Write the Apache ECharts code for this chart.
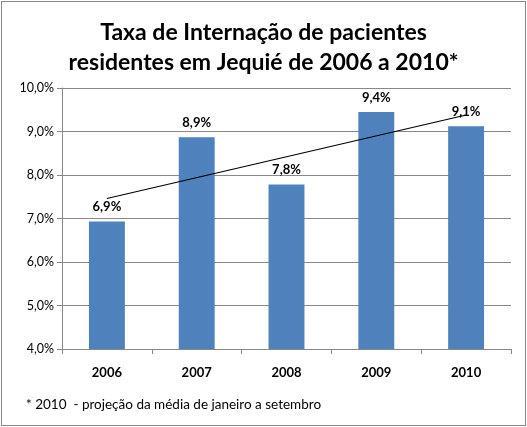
<!DOCTYPE html>
<html>
<head>
<meta charset="utf-8">
<script src="https://cdn.jsdelivr.net/npm/echarts@6/dist/echarts.min.js"></script>
<style>
  html, body { margin: 0; padding: 0; background: #fff; }
  #chart { position: absolute; left: 1px; top: 1px; width: 523px; height: 423px; border: 1px solid #888; }
</style>
</head>
<body>
<div id="chart"></div>
<script>
// dados
const anos = ['2006', '2007', '2008', '2009', '2010'];
const taxas = [6.93, 8.87, 7.78, 9.45, 9.12];
const rotulos = ['6,9%', '8,9%', '7,8%', '9,4%', '9,1%'];
// linha de tendência (extremos)
const tendencia = [7.46, null, null, null, 9.38];

const fonte = 'Lato, "Open Sans", sans-serif';

const chart = echarts.init(document.getElementById('chart'));
chart.setOption({
  animation: false,
  title: {
    text: 'Taxa de Internação de pacientes\nresidentes em Jequié de 2006 a 2010*',
    left: 'center',
    top: 11,
    textStyle: { fontFamily: fonte, fontSize: 23, fontWeight: 'bold', color: '#000', lineHeight: 30 }
  },
  graphic: [{
    type: 'text',
    left: 24,
    top: 396,
    style: { text: '* 2010  - projeção da média de janeiro a setembro', font: '13.5px ' + fonte, fill: '#000' }
  }],
  grid: { left: 60, right: 14, top: 86, bottom: 76 },
  xAxis: {
    type: 'category',
    data: anos,
    axisLine: { lineStyle: { color: '#888' } },
    axisTick: { show: true, length: 5, lineStyle: { color: '#888' } },
    axisLabel: { fontFamily: fonte, fontSize: 13, fontWeight: 'bold', color: '#000', margin: 17 }
  },
  yAxis: {
    type: 'value',
    min: 4, max: 10, interval: 1,
    axisLine: { show: true, lineStyle: { color: '#888' } },
    axisTick: { show: true, length: 5, lineStyle: { color: '#888' } },
    splitLine: { lineStyle: { color: '#888' } },
    axisLabel: {
      fontFamily: fonte, fontSize: 12.5, color: '#000', margin: 8,
      formatter: v => v.toFixed(1).replace('.', ',') + '%'
    }
  },
  series: [
    {
      type: 'bar',
      data: taxas,
      barWidth: '40%',
      itemStyle: { color: '#4F81BD' },
      label: {
        show: true, position: 'top', distance: 8,
        fontFamily: fonte, fontSize: 13, fontWeight: 'bold', color: '#000',
        formatter: p => rotulos[p.dataIndex]
      }
    },
    {
      type: 'line',
      data: tendencia,
      connectNulls: true,
      symbol: 'none',
      lineStyle: { color: '#000', width: 1.2 },
      z: 5
    }
  ]
});
</script>
</body>
</html>
